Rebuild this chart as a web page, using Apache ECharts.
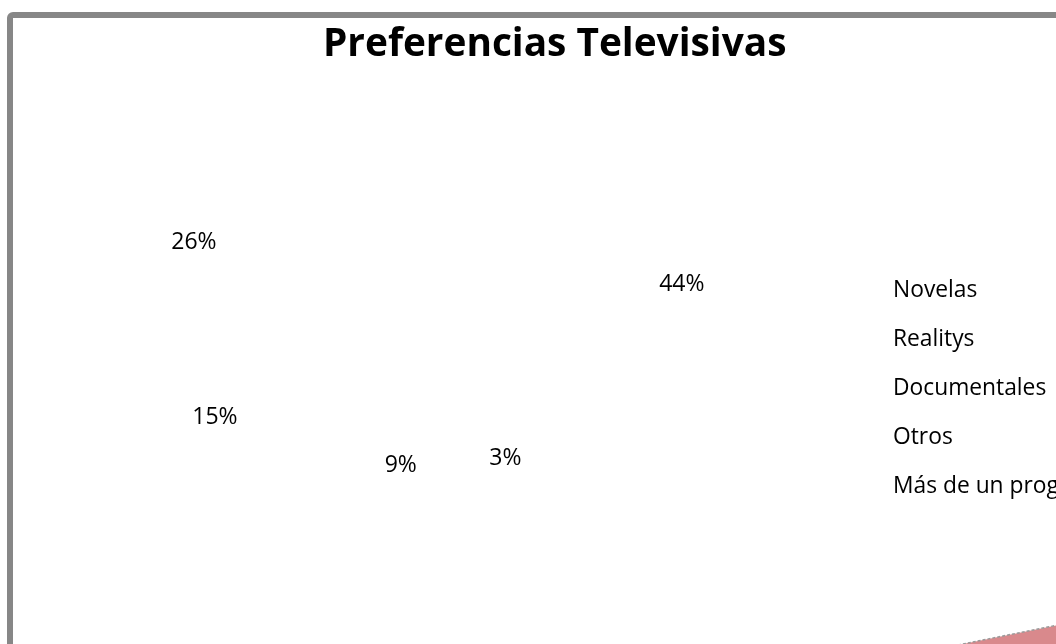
<!DOCTYPE html>
<html>
<head>
<meta charset="utf-8">
<script src="https://cdn.jsdelivr.net/npm/echarts@6/dist/echarts.min.js"></script>
<style>
	html, body { margin: 0; padding: 0; background: #fff; }
	#chart { width: 1056px; height: 644px; }
</style>
</head>
<body>
<div id="chart"></div>
<script>
// datos del grafico
var categorias = ['Novelas', 'Realitys', 'Documentales', 'Otros', 'Más de un programa'];
var porcentajes = [44, 26, 15, 9, 3];

var chart = echarts.init(document.getElementById('chart'));

// centro del pastel (vista 3D aplastada)
var cx = 419, cy = 323;
var aplastado = 141 / 270;
var fuente = 'Open Sans';

var datos = [];
for (var i = 0; i < categorias.length; i++) {
	datos.push({ name: categorias[i], value: porcentajes[i] });
}

var option = {
	backgroundColor: '#fff',
	title: {
		text: 'Preferencias Televisivas',
		left: 323,
		top: 25,
		padding: 0,
		textStyle: {
			fontFamily: fuente,
			fontWeight: 'bold',
			fontSize: 38.8,
			color: '#000'
		}
	},
	legend: {
		orient: 'vertical',
		left: 883,
		top: 274,
		itemWidth: 0,
		itemHeight: 23,
		itemGap: 26,
		icon: 'none',
		selectedMode: false,
		data: categorias,
		textStyle: {
			fontFamily: fuente,
			fontSize: 22.8,
			lineHeight: 23,
			color: '#000'
		}
	},
	graphic: [{
		// marco gris del grafico
		type: 'rect',
		shape: { x: 10, y: 15, width: 1100, height: 700, r: 3 },
		style: { fill: 'none', stroke: '#878787', lineWidth: 6 },
		silent: true,
		z: 10
	}, {
		// borde de un sector que asoma abajo a la derecha
		type: 'polygon',
		shape: { points: [[958, 645], [1058, 625], [1058, 645]] },
		style: { fill: '#d9898c', stroke: '#9a9a9a', lineWidth: 1.5, lineDash: [3, 2] },
		silent: true,
		z: 5
	}],
	series: [{
		type: 'pie',
		center: [cx, cy],
		radius: [0, 540],
		startAngle: -66,
		clockwise: false,
		silent: true,
		itemStyle: { color: 'rgba(0,0,0,0)', borderWidth: 0 },
		label: {
			show: true,
			position: 'inside',
			formatter: '{c}%',
			fontFamily: fuente,
			fontSize: 23,
			color: '#000'
		},
		labelLine: { show: false },
		labelLayout: function(params) {
			var r = params.labelRect;
			var my = r.y + r.height / 2;
			return { dy: (my - cy) * (aplastado - 1) };
		},
		data: datos
	}]
};

chart.setOption(option);
</script>
</body>
</html>
